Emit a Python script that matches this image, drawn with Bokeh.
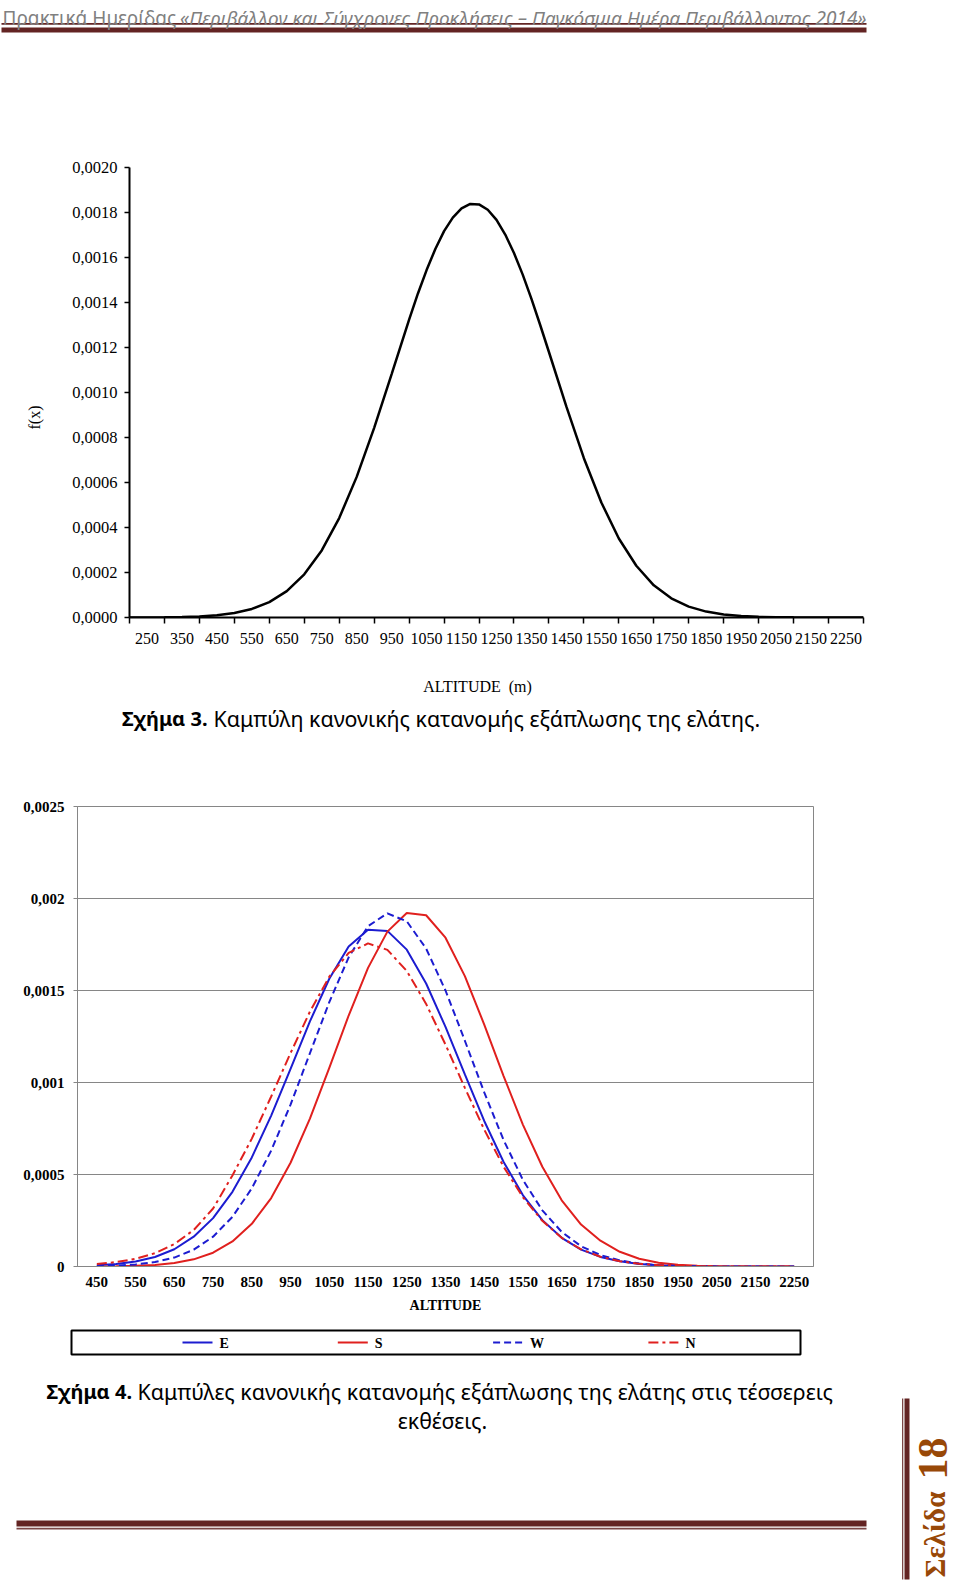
import math
from bokeh.plotting import figure
from bokeh.models import Range1d, FixedTicker, CustomJSTickFormatter
from bokeh.layouts import column, row
from bokeh.core.properties import value
from bokeh.embed import file_html
from bokeh.resources import INLINE

# ---------------- DATA ----------------
# Figure 3: normal distribution curve of fir presence (single series)
fig3_altitude = [200, 250, 300, 350, 400, 450, 500, 550, 600, 650,
                 700, 750, 800, 850, 900, 950, 1000, 1025, 1050, 1075,
                 1100, 1125, 1150, 1175, 1200, 1225, 1250, 1275, 1300, 1325,
                 1350, 1375, 1400, 1450, 1500, 1550, 1600, 1650, 1700, 1750,
                 1800, 1850, 1900, 1950, 2000, 2050, 2100, 2150, 2200, 2250, 2300]
fig3_fx = [0.0000002, 0.0000004, 0.000001, 0.0000022, 0.0000049, 0.0000102, 0.0000202, 0.0000381, 0.0000685, 0.000117,
           0.000192, 0.000298, 0.000442, 0.000625, 0.000843, 0.001082, 0.001324, 0.001439, 0.001544, 0.001638,
           0.001717, 0.001777, 0.001818, 0.001838, 0.001836, 0.001812, 0.001767, 0.001702, 0.00162, 0.001524,
           0.001416, 0.0013, 0.00118, 0.000937, 0.000708, 0.000511, 0.000351, 0.00023, 0.000143, 0.0000854,
           0.0000484, 0.0000262, 0.0000135, 0.0000066, 0.0000031, 0.0000014, 0.0000006, 0.0000002, 0.0000001, 0.0, 0.0]
fig3_x_categories = [250, 350, 450, 550, 650, 750, 850, 950, 1050, 1150, 1250,
                     1350, 1450, 1550, 1650, 1750, 1850, 1950, 2050, 2150, 2250]
fig3_x_labels = ["250", "350", "450", "550", "650", "750", "850", "950", "1050", "1150", "1250",
                 "1350", "1450", "1550", "1650", "1750", "1850", "1950", "2050", "2150", "2250"]
fig3_x_bounds = [200, 300, 400, 500, 600, 700, 800, 900, 1000, 1100, 1200,
                 1300, 1400, 1500, 1600, 1700, 1800, 1900, 2000, 2100, 2200, 2300]
fig3_y_ticks = [0.0, 0.0002, 0.0004, 0.0006, 0.0008, 0.0010, 0.0012, 0.0014, 0.0016, 0.0018, 0.0020]
fig3_y_labels = ["0,0000", "0,0002", "0,0004", "0,0006", "0,0008", "0,0010",
                 "0,0012", "0,0014", "0,0016", "0,0018", "0,0020"]

# Figure 4: curves for the four aspects
fig4_altitude = [450, 500, 550, 600, 650, 700, 750, 800, 850, 900,
                 950, 1000, 1050, 1100, 1150, 1200, 1250, 1300, 1350, 1400,
                 1450, 1500, 1550, 1600, 1650, 1700, 1750, 1800, 1850, 1900,
                 1950, 2000, 2050, 2100, 2150, 2200, 2250]
fig4_E = [0.0000062, 0.0000133, 0.0000269, 0.0000517, 0.0000939, 0.000162, 0.000263, 0.000406, 0.000593, 0.00082,
          0.001074, 0.001332, 0.001564, 0.001739, 0.00183, 0.001824, 0.001722, 0.001538, 0.001302, 0.001044,
          0.000791, 0.000568, 0.000387, 0.000252, 0.000156, 0.000092, 0.000052, 0.000028, 0.000014, 0.0000066,
          0.0000029, 0.0000012, 0.0000005, 0.0000002, 0.0000001, 0.0, 0.0]
fig4_S = [0.0000006, 0.0000015, 0.0000038, 0.0000088, 0.0000191, 0.0000389, 0.0000749, 0.000136, 0.000232, 0.000372,
          0.000564, 0.000804, 0.00108, 0.001364, 0.001623, 0.00182, 0.001921, 0.001909, 0.001787, 0.001578,
          0.001315, 0.001035, 0.00077, 0.000542, 0.00036, 0.000228, 0.00014, 0.00008, 0.000042, 0.00002,
          0.000009, 0.000004, 0.0000015, 0.0000006, 0.0000002, 0.0000001, 0.0]
fig4_W = [0.0000021, 0.0000051, 0.0000115, 0.0000243, 0.0000485, 0.0000913, 0.000162, 0.00027, 0.000425, 0.00063,
          0.00088, 0.001159, 0.001437, 0.00168, 0.00185, 0.001919, 0.001876, 0.001728, 0.0015, 0.001227,
          0.000946, 0.000687, 0.00047, 0.000305, 0.000188, 0.00011, 0.000062, 0.000033, 0.000016, 0.0000075,
          0.0000033, 0.0000013, 0.0000005, 0.0000002, 0.0000001, 0.0, 0.0]
fig4_N = [0.000013, 0.000024, 0.000042, 0.000072, 0.000122, 0.000198, 0.000315, 0.000495, 0.000695, 0.000924,
          0.00116, 0.001385, 0.001575, 0.001704, 0.001756, 0.001721, 0.001606, 0.001427, 0.001206, 0.000971,
          0.000744, 0.000542, 0.000376, 0.000248, 0.000156, 0.0000935, 0.0000533, 0.0000288, 0.0000149, 0.0000073,
          0.0000034, 0.0000015, 0.0000006, 0.0000002, 0.0000001, 0.0, 0.0]
fig4_series_names = ["E", "S", "W", "N"]
fig4_series_values = [fig4_E, fig4_S, fig4_W, fig4_N]
fig4_series_colors = ["#1c1cd0", "#e0201e", "#1c1cd0", "#e0201e"]
fig4_series_dashes = ["solid", "solid", "7 4", "10 4 3 4"]
fig4_x_ticks = [450, 550, 650, 750, 850, 950, 1050, 1150, 1250, 1350,
                1450, 1550, 1650, 1750, 1850, 1950, 2050, 2150, 2250]
fig4_x_labels = ["450", "550", "650", "750", "850", "950", "1050", "1150", "1250", "1350",
                 "1450", "1550", "1650", "1750", "1850", "1950", "2050", "2150", "2250"]
fig4_y_ticks = [0.0, 0.0005, 0.001, 0.0015, 0.002, 0.0025]
fig4_y_labels = ["0", "0,0005", "0,001", "0,0015", "0,002", "0,0025"]

# page texts
header_plain = "Πρακτικά Ημερίδας "
header_italic = "«Περιβάλλον και Σύγχρονες Προκλήσεις – Παγκόσμια Ημέρα Περιβάλλοντος 2014»"
cap3_bold = "Σχήμα 3."
cap3_text = "Καμπύλη κανονικής κατανομής εξάπλωσης της ελάτης."
cap4_bold = "Σχήμα 4."
cap4_text = "Καμπύλες κανονικής κατανομής εξάπλωσης της ελάτης στις τέσσερεις"
cap4_text2 = "εκθέσεις."
page_word = "Σελίδα"
page_number = "18"

# ---------------- STYLE ----------------
SERIF = "Liberation Serif"
SANS = "Noto Sans"
BROWN = "#632423"
GREY_TXT = "#808080"
PAGE_BROWN = "#984807"
GRID = "#868686"
W = 956  # page content width
CAP_SIZE = "21.4px"
CAP_BOLD_SIZE = "20px"


def lookup_formatter(tick_values, tick_labels):
    return CustomJSTickFormatter(args=dict(tvals=tick_values, tlabs=tick_labels), code="""
        for (let i = 0; i < tvals.length; i++) {
            if (Math.abs(tvals[i] - tick) < 1e-9) { return tlabs[i]; }
        }
        return "";
    """)


def pixel_fig(left, top, width, height):
    p = figure(width=width, height=height,
               x_range=Range1d(left, left + width), y_range=Range1d(top + height, top),
               x_axis_location=None, y_axis_location=None,
               output_backend="svg", toolbar_location=None, min_border=0)
    p.grid.visible = False
    p.outline_line_color = None
    p.background_fill_color = "white"
    p.border_fill_color = "white"
    return p


# ---------------- HEADER ----------------
head = pixel_fig(0, 0, W, 150)
head.quad(left=[1], right=[866], top=[22.6], bottom=[24.2], fill_color=BROWN, line_color=None)
head.quad(left=[1], right=[866], top=[27], bottom=[32], fill_color=BROWN, line_color=None)
head.text(x=[2], y=[17], text=[header_plain], text_font=value(SANS), text_font_size="19px",
          text_color=GREY_TXT, text_align="left", text_baseline="alphabetic")
head.text(x=[866], y=[17], text=[header_italic], text_font=value(SANS), text_font_size="19px",
          text_font_style="italic", text_color=GREY_TXT, text_align="right", text_baseline="alphabetic")

# ---------------- FIGURE 3 ----------------
fx = pixel_fig(0, 150, 58, 515)
fx.text(x=[34], y=[417], text=["f(x)"], angle=math.pi / 2, text_font=value(SERIF),
        text_font_size="16px", text_color="black", text_align="center", text_baseline="middle")

p3 = figure(width=W - 58, height=515, x_range=Range1d(200, 2300), y_range=Range1d(0, 0.002),
            output_backend="svg", toolbar_location=None,
            min_border_left=71, min_border_right=W - 863, min_border_top=17, min_border_bottom=48)
p3.grid.visible = False
p3.outline_line_color = None
p3.background_fill_color = "white"
p3.line(fig3_altitude, fig3_fx, line_color="black", line_width=2.5)

xa = p3.xaxis[0]
xa.ticker = FixedTicker(ticks=fig3_x_categories, minor_ticks=fig3_x_bounds)
xa.formatter = lookup_formatter(fig3_x_categories, fig3_x_labels)
xa.axis_line_color = "black"
xa.axis_line_width = 2
xa.major_tick_out = 0
xa.major_tick_in = 0
xa.minor_tick_out = 6
xa.minor_tick_in = 0
xa.minor_tick_line_color = "black"
xa.minor_tick_line_width = 1.5
xa.major_label_text_font = SERIF
xa.major_label_text_font_size = "16px"
xa.major_label_text_color = "black"
xa.major_label_standoff = 9

ya = p3.yaxis[0]
ya.ticker = FixedTicker(ticks=fig3_y_ticks, minor_ticks=[])
ya.formatter = lookup_formatter(fig3_y_ticks, fig3_y_labels)
ya.axis_line_color = "black"
ya.axis_line_width = 2
ya.major_tick_out = 5
ya.major_tick_in = 0
ya.major_tick_line_color = "black"
ya.major_tick_line_width = 1.5
ya.minor_tick_out = 0
ya.minor_tick_in = 0
ya.major_label_text_font = SERIF
ya.major_label_text_font_size = "16.5px"
ya.major_label_text_color = "black"
ya.major_label_standoff = 7

cap3 = pixel_fig(0, 665, W, 115)
cap3.text(x=[477], y=[686], text=["ALTITUDE\u00a0 (m)"], text_font=value(SERIF), text_font_size="16px",
          text_color="black", text_align="center", text_baseline="middle")
cap3.text(x=[207], y=[718], text=[cap3_bold], text_font=value(SANS), text_font_size=CAP_BOLD_SIZE,
          text_font_style="bold", text_color="black", text_align="right", text_baseline="middle")
cap3.text(x=[213], y=[718], text=[cap3_text], text_font=value(SANS), text_font_size=CAP_SIZE,
          text_color="black", text_align="left", text_baseline="middle")

# ---------------- FIGURE 4 ----------------
p4 = figure(width=W, height=538, x_range=Range1d(400, 2300), y_range=Range1d(0, 0.0025),
            output_backend="svg", toolbar_location=None,
            min_border_left=77, min_border_right=W - 813, min_border_top=26, min_border_bottom=52)
p4.background_fill_color = "white"
p4.outline_line_color = GRID
p4.outline_line_width = 1
p4.xgrid.visible = False
p4.ygrid.ticker = FixedTicker(ticks=fig4_y_ticks)
p4.ygrid.grid_line_color = GRID
p4.ygrid.grid_line_width = 1

for vals, col, dash in zip(fig4_series_values, fig4_series_colors, fig4_series_dashes):
    p4.line(fig4_altitude, vals, line_color=col, line_width=2, line_dash=dash)

xb = p4.xaxis[0]
xb.ticker = FixedTicker(ticks=fig4_x_ticks, minor_ticks=[])
xb.formatter = lookup_formatter(fig4_x_ticks, fig4_x_labels)
xb.axis_line_color = GRID
xb.major_tick_out = 0
xb.major_tick_in = 0
xb.minor_tick_out = 0
xb.minor_tick_in = 0
xb.major_label_text_font = SERIF
xb.major_label_text_font_style = "bold"
xb.major_label_text_font_size = "15px"
xb.major_label_text_color = "black"
xb.major_label_standoff = 10
xb.axis_label = "ALTITUDE"
xb.axis_label_text_font = SERIF
xb.axis_label_text_font_style = "bold"
xb.axis_label_text_font_size = "14px"
xb.axis_label_text_color = "black"
xb.axis_label_standoff = 8

yb = p4.yaxis[0]
yb.ticker = FixedTicker(ticks=fig4_y_ticks, minor_ticks=[])
yb.formatter = lookup_formatter(fig4_y_ticks, fig4_y_labels)
yb.axis_line_color = GRID
yb.major_tick_out = 4
yb.major_tick_in = 0
yb.major_tick_line_color = GRID
yb.minor_tick_out = 0
yb.minor_tick_in = 0
yb.major_label_text_font = SERIF
yb.major_label_text_font_style = "bold"
yb.major_label_text_font_size = "15px"
yb.major_label_text_color = "black"
yb.major_label_standoff = 9

# ---------------- BOTTOM: legend, caption, footer ----------------
bot = pixel_fig(0, 1318, W, 266)
bot.quad(left=[71], right=[800], top=[1330], bottom=[1354], fill_color=None, line_color="black", line_width=2)
leg_x0, leg_step, leg_len, leg_y = 182, 155.3, 30, 1342
for i, (name, col, dash) in enumerate(zip(fig4_series_names, fig4_series_colors, fig4_series_dashes)):
    x0 = leg_x0 + i * leg_step
    bot.line(x=[x0, x0 + leg_len], y=[leg_y, leg_y], line_color=col, line_width=2, line_dash=dash)
    bot.text(x=[x0 + leg_len + 7], y=[leg_y + 1], text=[name], text_font=value(SERIF),
             text_font_style="bold", text_font_size="14px", text_color="black",
             text_align="left", text_baseline="middle")

bot.text(x=[131.5], y=[1391], text=[cap4_bold], text_font=value(SANS), text_font_size=CAP_BOLD_SIZE,
         text_font_style="bold", text_color="black", text_align="right", text_baseline="middle")
bot.text(x=[137], y=[1391], text=[cap4_text], text_font=value(SANS), text_font_size=CAP_SIZE,
         text_color="black", text_align="left", text_baseline="middle")
bot.text(x=[442], y=[1420], text=[cap4_text2], text_font=value(SANS), text_font_size=CAP_SIZE,
         text_color="black", text_align="center", text_baseline="middle")

# footer lines
bot.quad(left=[16], right=[866], top=[1520], bottom=[1526], fill_color=BROWN, line_color=None)
bot.quad(left=[16], right=[866], top=[1527.3], bottom=[1529], fill_color="#7a4646", line_color=None)

# vertical page marker
bot.quad(left=[901.5], right=[902.8], top=[1398], bottom=[1579], fill_color="#7a4646", line_color=None)
bot.quad(left=[904], right=[909], top=[1398], bottom=[1579], fill_color=BROWN, line_color=None)
bot.text(x=[934], y=[1577], text=[page_word], angle=math.pi / 2, text_font=value(SERIF),
         text_font_style="bold", text_font_size="29px", text_color=PAGE_BROWN,
         text_align="left", text_baseline="middle")
bot.text(x=[932], y=[1479], text=[page_number], angle=math.pi / 2, text_font=value(SERIF),
         text_font_style="bold", text_font_size="42px", text_color=PAGE_BROWN,
         text_align="left", text_baseline="middle")

layout = column(column(head), row(column(fx), column(p3)), column(cap3), column(p4), column(bot))

open("out.html", "w").write(file_html(layout, INLINE))
